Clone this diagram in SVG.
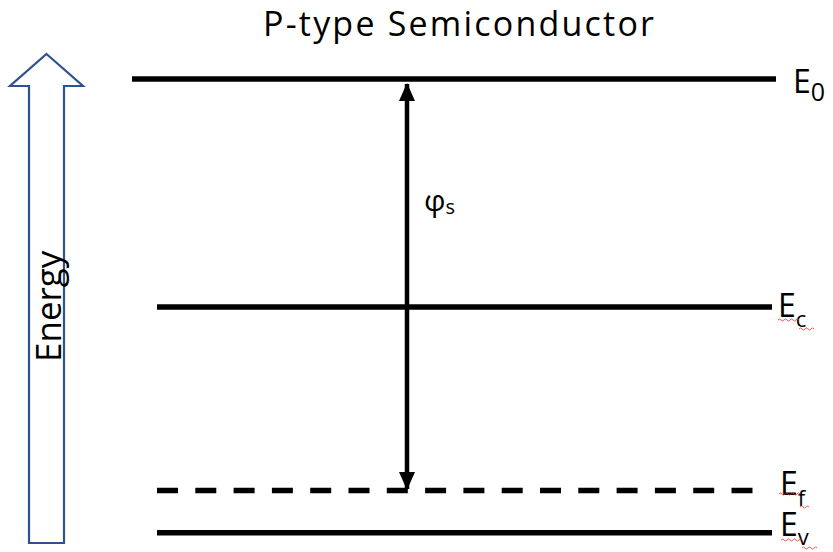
<svg xmlns="http://www.w3.org/2000/svg" width="833" height="552" viewBox="0 0 833 552">
<defs>
<style>
.lvl{stroke:#000;stroke-width:5.5;fill:none}
.lbl{font-family:"Open Sans","Noto Sans","DejaVu Sans",sans-serif;font-size:32px;fill:#000}
.sub{font-size:22px}
.sq{stroke:#e83030;stroke-width:1;fill:none;opacity:0.8}
</style>
<marker id="ah" viewBox="0 0 18 16" refX="17" refY="8" markerWidth="18" markerHeight="16" markerUnits="userSpaceOnUse" orient="auto-start-reverse">
<path d="M0,0 L18,8 L0,16 Z" fill="#000"/>
</marker>
</defs>
<rect width="833" height="552" fill="#fff"/>
<g id="title"><text class="lbl" style="font-size:34px" x="263" y="36" textLength="391" lengthAdjust="spacing">P-type Semiconductor</text></g>
<g id="energy-axis">
<path d="M46.5,54 L83,86 L64,86 L64,543 L29,543 L29,86 L10,86 Z" fill="#fff" stroke="#2F528F" stroke-width="2.2" stroke-linejoin="miter"/>
<text class="lbl" style="font-size:35px" transform="translate(61,362) rotate(-90)">Energy</text>
</g>
<g id="level-E0">
<line class="lvl" x1="132" y1="79" x2="776" y2="79"/>
<text class="lbl" x="793" y="93">E<tspan class="sub" style="font-size:25px" dy="8">0</tspan></text>
</g>
<g id="level-Ec">
<line class="lvl" x1="157" y1="307" x2="772" y2="307"/>
<text class="lbl" x="778" y="317">E<tspan class="sub" dy="10">c</tspan></text>
<path class="sq" d="M778,320 q1.5,-2 3,0 t3,0 t3,0 t3,0 t3,0 t3,0 t3,0 M799,329 q1.5,-2 3,0 t3,0 t3,0 t3,0 t3,0"/>
</g>
<g id="level-Ef">
<line class="lvl" x1="157" y1="490.5" x2="755" y2="490.5" stroke-dasharray="21 17.3"/>
<text class="lbl" x="780" y="495">E<tspan class="sub" dy="11">f</tspan></text>
<path class="sq" d="M779,494 q1.5,-2 3,0 t3,0 t3,0 t3,0 t3,0 t3,0 t3,0 M800,507 q1.5,-2 3,0 t3,0 t3,0"/>
</g>
<g id="level-Ev">
<line class="lvl" x1="157" y1="532.7" x2="772" y2="532.7"/>
<text class="lbl" x="780" y="536">E<tspan class="sub" dy="9">v</tspan></text>
<path class="sq" d="M781,540 q1.5,-2 3,0 t3,0 t3,0 t3,0 t3,0 t3,0 t3,0 M802,548 q1.5,-2 3,0 t3,0 t3,0 t3,0 t3,0"/>
</g>
<g id="connectors">
<line x1="407" y1="84" x2="407" y2="489" stroke="#000" stroke-width="4.5" marker-start="url(#ah)" marker-end="url(#ah)"/>
</g>
<g id="label-phi">
<text class="lbl" style="font-size:30px" x="424" y="211">φ<tspan class="sub" style="font-size:20px" dy="3">s</tspan></text>
</g>
</svg>
